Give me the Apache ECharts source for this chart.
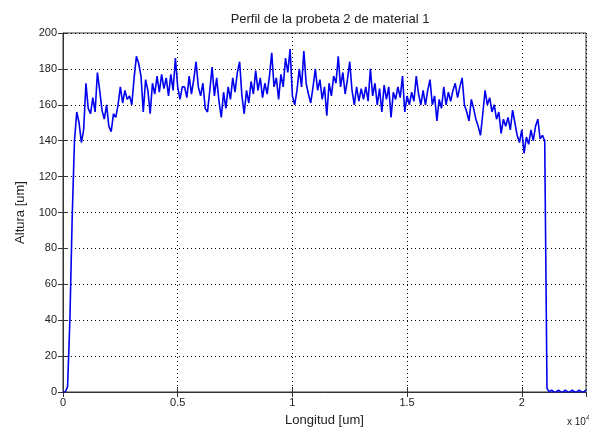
<!DOCTYPE html>
<html>
<head>
<meta charset="utf-8">
<script src="https://cdn.jsdelivr.net/npm/echarts@6/dist/echarts.min.js"></script>
<style>
  html, body { margin: 0; padding: 0; background: #fff; }
  #chart { width: 589px; height: 435px; }
</style>
</head>
<body>
<div id="chart"></div>
<script>
// Surface profile of specimen 2, material 1: one height sample every 100 um.
const stepUm = 100;
const altura = [
  0, 0, 3, 40, 97, 140, 156, 150, 139, 146,
  172, 158, 155, 164, 156, 178, 168, 157, 152, 160,
  148, 145, 155, 153, 160, 170, 161, 168, 163, 165,
  160, 175, 187, 183, 176, 156, 174, 168, 155, 172,
  166, 176, 167, 177, 169, 175, 165, 177, 168, 186,
  170, 163, 170, 170, 164, 176, 166, 174, 184, 170,
  165, 172, 158, 156, 168, 181, 165, 175, 162, 153,
  167, 158, 170, 163, 175, 167, 178, 184, 165, 155,
  168, 161, 173, 166, 179, 168, 175, 164, 172, 166,
  176, 189, 170, 175, 163, 177, 170, 186, 178, 191,
  165, 160, 168, 180, 170, 190, 172, 166, 161, 170,
  180, 168, 174, 163, 170, 154, 172, 165, 176, 172,
  187, 170, 178, 166, 174, 184, 168, 160, 170, 162,
  169, 163, 170, 162, 180, 165, 172, 160, 169, 156,
  171, 163, 170, 153, 167, 163, 170, 164, 176, 156,
  165, 160, 167, 162, 176, 166, 160, 168, 160, 168,
  174, 160, 165, 151, 163, 158, 170, 160, 167, 162,
  168, 172, 164, 170, 175, 160, 156, 151, 163, 158,
  152, 148, 143, 155, 168, 160, 164, 156, 160, 152,
  156, 144, 152, 148, 153, 146, 157, 150, 143, 139,
  146, 133, 142, 138, 146, 140, 148, 152, 141, 143,
  140, 2, 0, 1, 0, 0, 1, 0, 0, 1,
  0, 0, 1, 0, 0, 1, 0, 0, 1
];
const xTicks = [0, 5000, 10000, 15000, 20000];
const yTicks = [0, 20, 40, 60, 80, 100, 120, 140, 160, 180, 200];
const xMax = 22800;

const points = altura.map((v, i) => [i * stepUm, v]);

const font = 'Liberation Sans, Arial, sans-serif';
const gridLine = { show: true, lineStyle: { color: '#000', type: [1, 3], width: 1 } };
const tick = { show: true, inside: true, length: 5, lineStyle: { color: '#333' } };

const chart = echarts.init(document.getElementById('chart'), null, { renderer: 'canvas' });
chart.setOption({
  animation: false,
  backgroundColor: '#fff',
  title: {
    text: 'Perfil de la probeta 2 de material 1',
    left: 325, top: 8, textAlign: 'center',
    textStyle: { fontFamily: font, fontSize: 13, fontWeight: 'normal', color: '#222' }
  },
  grid: { left: 63, right: 3, top: 33, bottom: 43, show: true, borderColor: '#333', borderWidth: 1, backgroundColor: 'transparent' },
  xAxis: [{
    type: 'value', min: 0, max: xMax, interval: 5000,
    name: 'Longitud [um]', nameLocation: 'middle', nameGap: 22,
    nameTextStyle: { fontFamily: font, fontSize: 13, color: '#222' },
    axisLine: { show: true, lineStyle: { color: '#333' } },
    axisTick: tick,
    splitLine: gridLine,
    axisLabel: {
      fontFamily: font, fontSize: 11, color: '#222', margin: 5,
      showMaxLabel: false,
      formatter: v => xTicks.includes(v) ? String(v / 10000) : ''
    }
  }, {
    type: 'value', min: 0, max: xMax, interval: 5000, position: 'top',
    axisLine: { show: false }, axisTick: tick, axisLabel: { show: false }, splitLine: { show: false }
  }],
  yAxis: [{
    type: 'value', min: 0, max: 200, interval: 20,
    name: 'Altura [um]', nameLocation: 'middle', nameGap: 36,
    nameTextStyle: { fontFamily: font, fontSize: 13, color: '#222' },
    axisLine: { show: true, lineStyle: { color: '#333' } },
    axisTick: tick,
    splitLine: gridLine,
    axisLabel: {
      fontFamily: font, fontSize: 11, color: '#222', margin: 6,
      formatter: v => yTicks.includes(v) ? String(v) : ''
    }
  }, {
    type: 'value', min: 0, max: 200, interval: 20, position: 'right',
    axisLine: { show: false }, axisTick: tick, axisLabel: { show: false }, splitLine: { show: false }
  }],
  graphic: [{
    type: 'text', left: 567, top: 414,
    style: {
      text: 'x 10{s|4}', fontFamily: font, fontSize: 10, fill: '#222',
      rich: { s: { fontSize: 8, verticalAlign: 'top', padding: [0, 0, 8, 0] } }
    }
  }],
  series: [{
    type: 'line', data: points, showSymbol: false, symbol: 'none',
    lineStyle: { color: '#0000ee', width: 1.6 },
    xAxisIndex: 0, yAxisIndex: 0
  }]
});
</script>
</body>
</html>
